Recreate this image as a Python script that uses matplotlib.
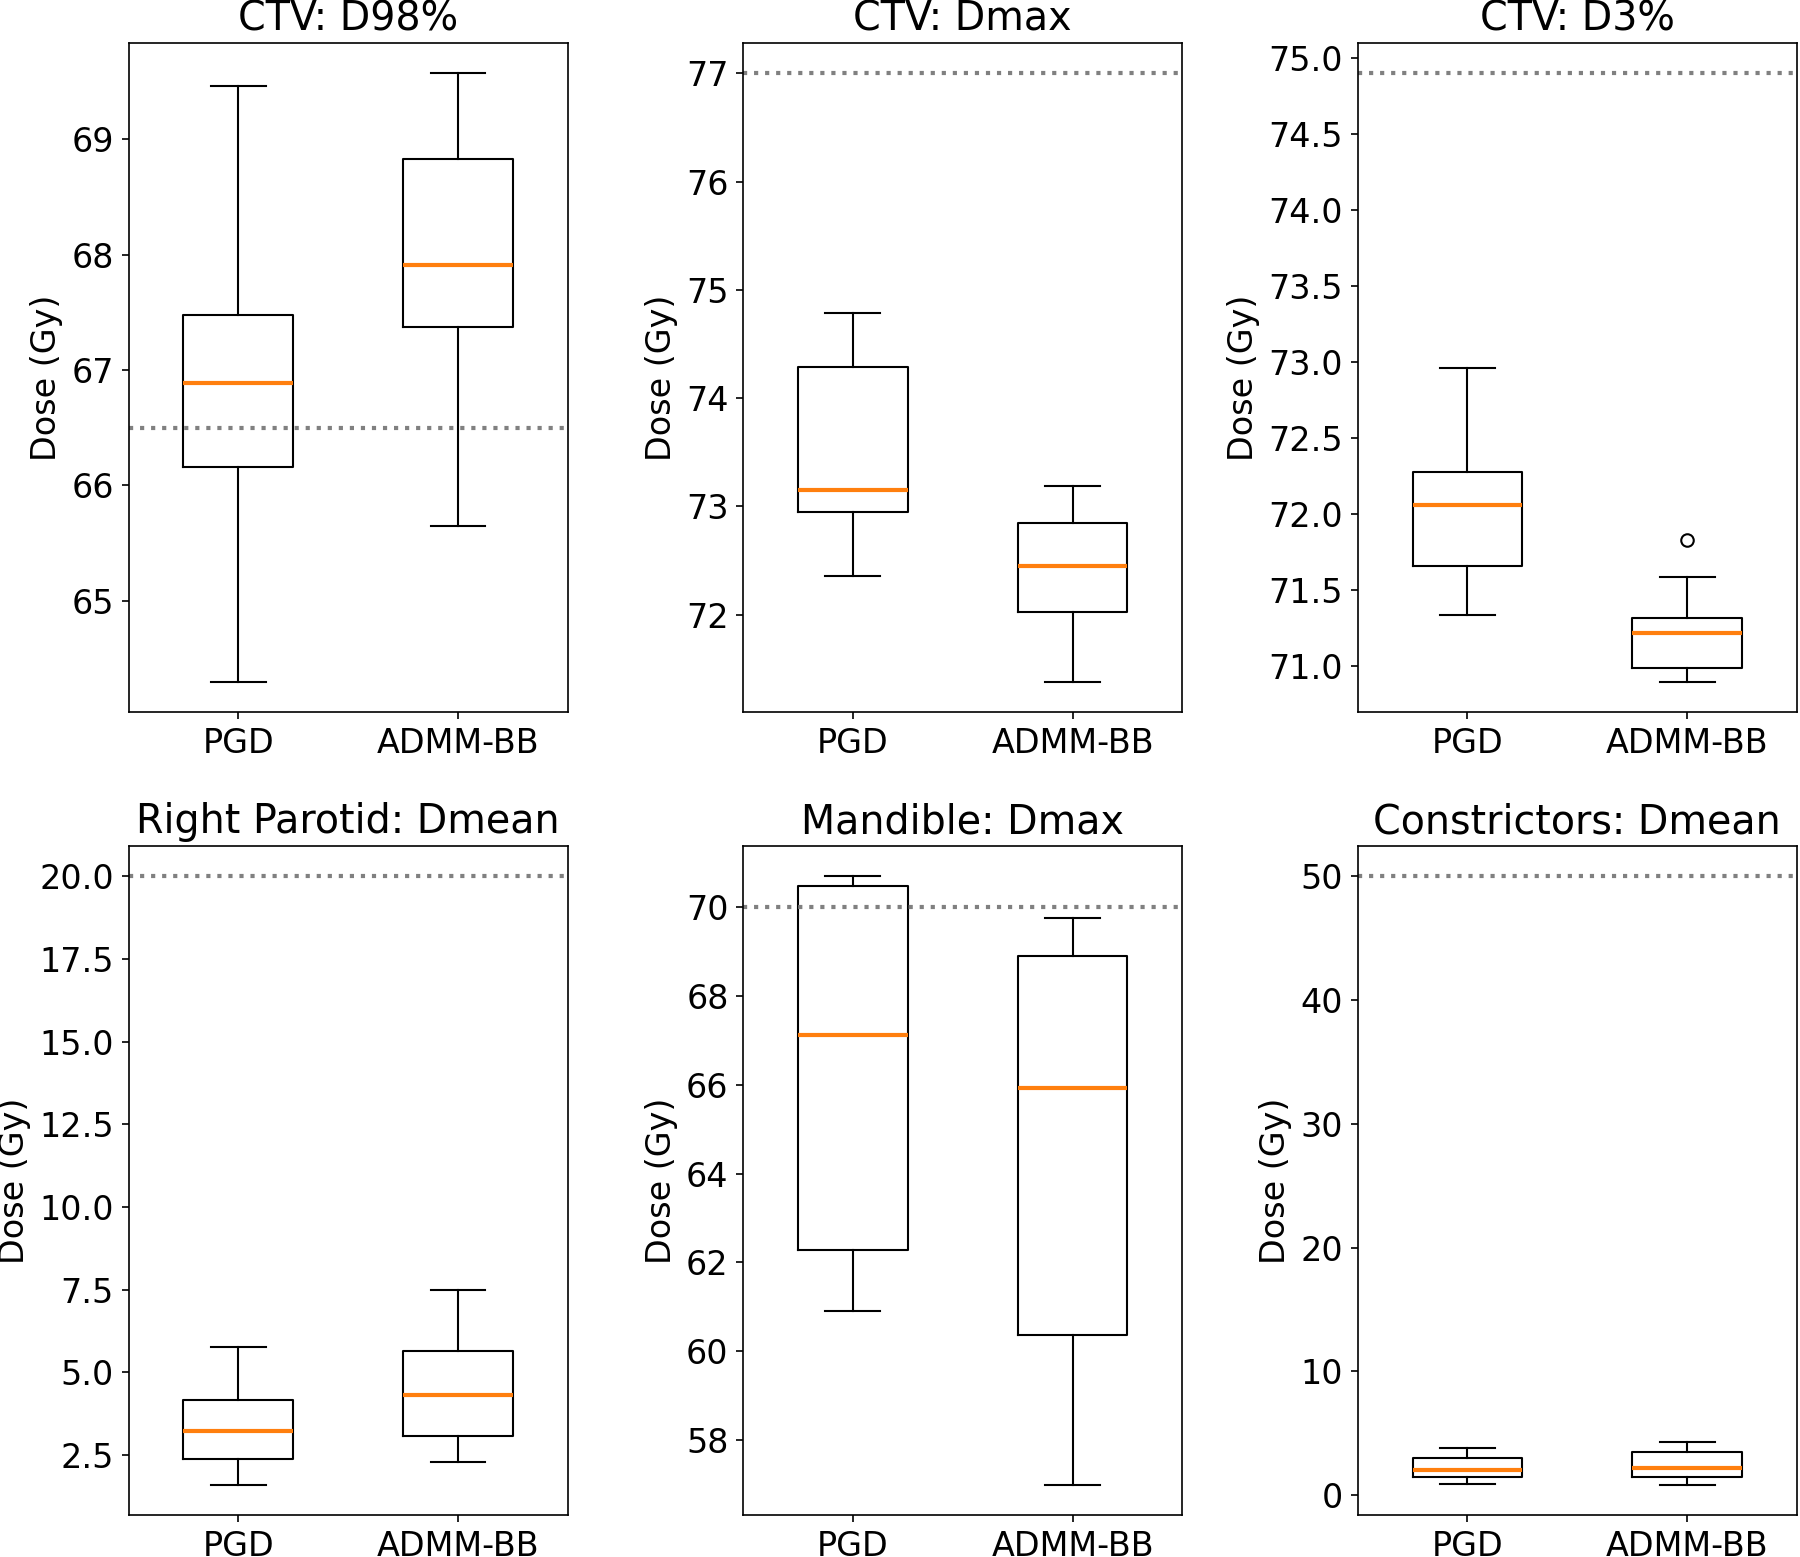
import matplotlib
matplotlib.use('Agg')
import matplotlib.pyplot as plt

methods = ['PGD', 'ADMM-BB']

titles = ['CTV: D98%', 'CTV: Dmax', 'CTV: D3%',
          'Right Parotid: Dmean', 'Mandible: Dmax', 'Constrictors: Dmean']

thresholds = [66.5, 77.0, 74.9, 20.0, 70.0, 50.0]

# per panel: [PGD, ADMM-BB] -> (whislo, q1, med, q3, whishi)
ctv_d98 = [(64.30, 66.16, 66.89, 67.48, 69.46), (65.65, 67.37, 67.91, 68.83, 69.57)]
ctv_dmax = [(72.36, 72.95, 73.15, 74.29, 74.79), (71.38, 72.02, 72.45, 72.85, 73.19)]
ctv_d3 = [(71.34, 71.66, 72.06, 72.28, 72.96), (70.90, 70.99, 71.22, 71.32, 71.59)]
parotid = [(1.61, 2.37, 3.24, 4.18, 5.78), (2.30, 3.07, 4.32, 5.64, 7.48)]
mandible = [(60.91, 62.28, 67.12, 70.47, 70.70), (56.99, 60.36, 65.93, 68.91, 69.77)]
constrictors = [(0.92, 1.46, 2.05, 3.04, 3.81), (0.86, 1.46, 2.16, 3.45, 4.32)]

# outliers per panel: [PGD, ADMM-BB]
fliers = [[[], []], [[], []], [[], [71.83]], [[], []], [[], []], [[], []]]

panels = [ctv_d98, ctv_dmax, ctv_d3, parotid, mandible, constrictors]

plt.rcParams['font.size'] = 16

fig, axes = plt.subplots(2, 3, figsize=(12, 10.38), dpi=150)
fig.subplots_adjust(left=0.0714, right=0.9983, top=0.9724, bottom=0.027,
                    wspace=0.399, hspace=0.2)

for i, ax in enumerate(axes.flat):
    stats = []
    for j, m in enumerate(methods):
        lo, q1, med, q3, hi = panels[i][j]
        stats.append({'label': m, 'whislo': lo, 'q1': q1, 'med': med,
                      'q3': q3, 'whishi': hi, 'fliers': fliers[i][j]})
    ax.bxp(stats, showfliers=True, widths=0.5,
           medianprops=dict(color='#ff7f0e', linewidth=2))
    ax.axhline(thresholds[i], color='gray', linestyle=':', linewidth=2)
    ax.set_title(titles[i], fontsize=19)
    ax.set_ylabel('Dose (Gy)', fontsize=16)
    ax.tick_params(labelsize=16)

fig.savefig('out.png', dpi=150)
